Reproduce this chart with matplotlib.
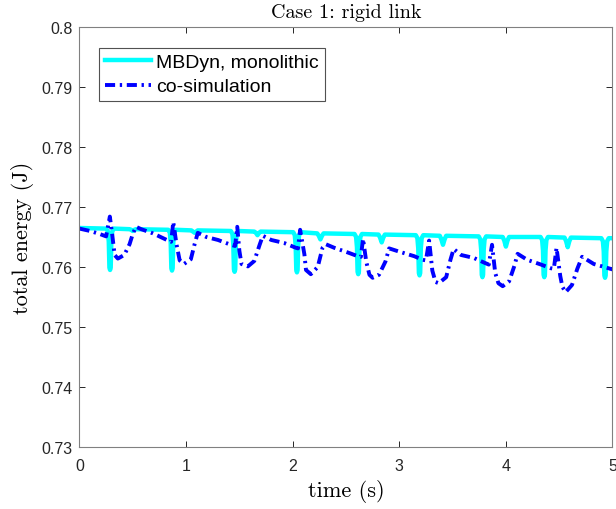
import matplotlib
matplotlib.use('Agg')
import matplotlib.pyplot as plt

# MBDyn monolithic: total energy (J) vs time (s)
t_mono = [0.000,
          0.252, 0.267, 0.275, 0.281, 0.287, 0.293, 0.299, 0.307, 0.322,
          0.470, 0.485, 0.500, 0.515, 0.530,
          0.833, 0.848, 0.856, 0.862, 0.868, 0.874, 0.880, 0.888, 0.903,
          1.050, 1.065, 1.080, 1.095, 1.110,
          1.420, 1.435, 1.443, 1.449, 1.455, 1.461, 1.467, 1.475, 1.490,
          1.640, 1.655, 1.670, 1.685, 1.700,
          2.005, 2.020, 2.028, 2.034, 2.040, 2.046, 2.052, 2.060, 2.075,
          2.230, 2.245, 2.260, 2.275, 2.290,
          2.580, 2.595, 2.603, 2.609, 2.615, 2.621, 2.627, 2.635, 2.650,
          2.805, 2.820, 2.835, 2.850, 2.865,
          3.155, 3.170, 3.178, 3.184, 3.190, 3.196, 3.202, 3.210, 3.225,
          3.380, 3.395, 3.410, 3.425, 3.440,
          3.745, 3.760, 3.768, 3.774, 3.780, 3.786, 3.792, 3.800, 3.815,
          3.970, 3.985, 4.000, 4.015, 4.030,
          4.325, 4.340, 4.348, 4.354, 4.360, 4.366, 4.372, 4.380, 4.395,
          4.550, 4.565, 4.580, 4.595, 4.610,
          4.895, 4.910, 4.918, 4.924, 4.930, 4.936, 4.942, 4.950, 4.965,
          5.000]
e_mono = [0.7665,
          0.7664, 0.7659, 0.7642, 0.7599, 0.7595, 0.7599, 0.7642, 0.7659, 0.7664,
          0.7663, 0.7662, 0.7660, 0.7662, 0.7663,
          0.7662, 0.7657, 0.7640, 0.7598, 0.7594, 0.7598, 0.7640, 0.7657, 0.7662,
          0.7661, 0.7659, 0.7657, 0.7659, 0.7661,
          0.7660, 0.7655, 0.7638, 0.7596, 0.7592, 0.7596, 0.7638, 0.7655, 0.7660,
          0.7659, 0.7657, 0.7653, 0.7657, 0.7659,
          0.7658, 0.7653, 0.7636, 0.7595, 0.7591, 0.7595, 0.7636, 0.7653, 0.7658,
          0.7656, 0.7652, 0.7646, 0.7652, 0.7656,
          0.7655, 0.7650, 0.7633, 0.7592, 0.7588, 0.7592, 0.7633, 0.7650, 0.7655,
          0.7654, 0.7649, 0.7641, 0.7649, 0.7654,
          0.7653, 0.7648, 0.7631, 0.7590, 0.7586, 0.7590, 0.7631, 0.7648, 0.7653,
          0.7652, 0.7646, 0.7637, 0.7646, 0.7652,
          0.7651, 0.7646, 0.7629, 0.7587, 0.7583, 0.7587, 0.7629, 0.7646, 0.7651,
          0.7650, 0.7644, 0.7634, 0.7644, 0.7650,
          0.7650, 0.7645, 0.7628, 0.7587, 0.7583, 0.7587, 0.7628, 0.7645, 0.7650,
          0.7649, 0.7643, 0.7633, 0.7643, 0.7649,
          0.7648, 0.7643, 0.7626, 0.7586, 0.7582, 0.7586, 0.7626, 0.7643, 0.7648,
          0.7648]

# co-simulation
t_cosim = [0.00, 0.10, 0.19, 0.25, 0.285,
           0.31, 0.33, 0.36, 0.42, 0.47, 0.50, 0.53,
           0.58, 0.69, 0.82, 0.86, 0.88,
           0.91, 0.94, 0.98, 1.045, 1.08, 1.11,
           1.19, 1.30, 1.42, 1.46, 1.48,
           1.50, 1.52, 1.58, 1.64, 1.69, 1.72,
           1.80, 1.92, 2.03, 2.05, 2.07,
           2.11, 2.125, 2.17, 2.235, 2.28, 2.31,
           2.39, 2.52, 2.61, 2.64, 2.66,
           2.69, 2.72, 2.75, 2.81, 2.87, 2.905,
           3.01, 3.14, 3.22, 3.25, 3.28,
           3.31, 3.34, 3.37, 3.44, 3.48, 3.51,
           3.58, 3.70, 3.80, 3.84, 3.87,
           3.90, 3.93, 3.97, 4.03, 4.08, 4.11,
           4.20, 4.33, 4.42, 4.45, 4.475,
           4.51, 4.53, 4.56, 4.62, 4.67, 4.715,
           4.825, 4.98, 5.00]
e_cosim = [0.7664, 0.7660, 0.7655, 0.7651, 0.7684,
           0.7650, 0.7620, 0.7614, 0.7620, 0.7638, 0.7655, 0.7667,
           0.7663, 0.7656, 0.7645, 0.7642, 0.7675,
           0.7638, 0.7611, 0.7605, 0.7613, 0.7638, 0.7657,
           0.7650, 0.7645, 0.7637, 0.7635, 0.7667,
           0.7627, 0.7605, 0.7601, 0.7610, 0.7637, 0.7652,
           0.7645, 0.7640, 0.7632, 0.7631, 0.7662,
           0.7621, 0.7595, 0.7588, 0.7600, 0.7632, 0.7638,
           0.7632, 0.7624, 0.7618, 0.7617, 0.7647,
           0.7609, 0.7587, 0.7582, 0.7587, 0.7609, 0.7631,
           0.7625, 0.7618, 0.7612, 0.7611, 0.7644,
           0.7594, 0.7575, 0.7573, 0.7583, 0.7612, 0.7630,
           0.7620, 0.7615, 0.7607, 0.7604, 0.7637,
           0.7590, 0.7573, 0.7568, 0.7576, 0.7602, 0.7622,
           0.7612, 0.7604, 0.7598, 0.7597, 0.7632,
           0.7585, 0.7567, 0.7558, 0.7570, 0.7597, 0.7617,
           0.7605, 0.7597, 0.7596]

x_ticks = [0, 1, 2, 3, 4, 5]
y_ticks = [0.73, 0.74, 0.75, 0.76, 0.77, 0.78, 0.79, 0.80]
y_tick_labels = ['0.73', '0.74', '0.75', '0.76', '0.77', '0.78', '0.79', '0.8']

plt.rcParams['font.family'] = ['Liberation Sans', 'DejaVu Sans']

fig = plt.figure(figsize=(6.16, 5.10), dpi=100)
ax = fig.add_axes([0.129, 0.1216, 0.8653, 0.8235])

ax.plot(t_mono, e_mono, color='#00FFFF', linewidth=3.2, label='MBDyn, monolithic')
ax.plot(t_cosim, e_cosim, color='#0000FF', linewidth=2.8,
        linestyle=(0, (2.6, 1.2, 0.6, 1.2)), label='co-simulation')

ax.set_xlim(0, 5)
ax.set_ylim(0.73, 0.80)
ax.set_xticks(x_ticks)
ax.set_yticks(y_ticks)
ax.set_yticklabels(y_tick_labels)

gray = '#262626'
for s in ax.spines.values():
    s.set_color('#808080')
    s.set_linewidth(0.8)
ax.tick_params(direction='in', top=True, right=True, length=4, width=0.7,
               color=gray, labelcolor=gray, labelsize=11.5)
ax.tick_params(axis='x', pad=8)
ax.tick_params(axis='y', pad=5)

ax.set_xlabel('time (s)', fontfamily='cmr10', fontsize=16, labelpad=4)
ax.set_ylabel('total energy (J)', fontfamily='cmr10', fontsize=16, labelpad=5)
ax.set_title('Case 1: rigid link', fontfamily='cmr10', fontsize=14.5, pad=7)

leg = ax.legend(loc='upper left', bbox_to_anchor=(0.0366, 0.951), borderaxespad=0,
                fontsize=14, frameon=True, fancybox=False, handlelength=2.4,
                handletextpad=0.25, borderpad=0.3, labelspacing=0.35)
leg.get_frame().set_edgecolor('#262626')
leg.get_frame().set_linewidth(0.8)

fig.savefig('out.png', dpi=100)
